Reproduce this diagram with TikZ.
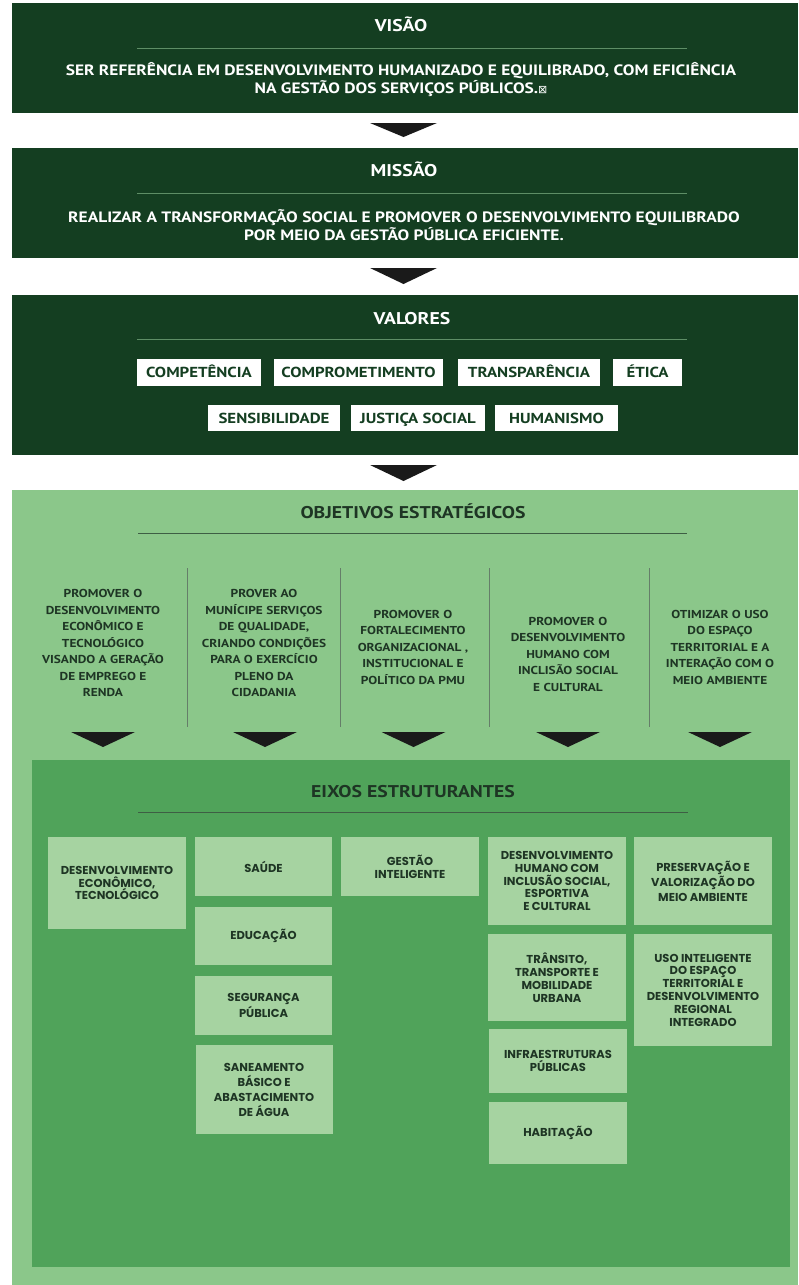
\documentclass[tikz,border=0pt]{standalone}
\usepackage{fontspec}
\setmainfont{PT Sans}[FakeStretch=1.16]
\newfontfamily\boxfont{Poppins}
\newfontfamily\symfont{DejaVu Sans}
\definecolor{darkg}{HTML}{143E21}
\definecolor{lightg}{HTML}{8BC78A}
\definecolor{midg}{HTML}{50A35A}
\definecolor{boxg}{HTML}{A6D3A1}
\definecolor{ruledark}{HTML}{5E8E66}
\definecolor{rulelight}{HTML}{3E5E44}
\definecolor{txtd}{HTML}{1E3524}
\definecolor{arrowc}{HTML}{1A1A1A}
\newcommand{\myfs}[2]{\fontsize{#1}{#2}\selectfont}
\newcommand{\downtri}[4]{\fill[arrowc] (#1-#4,#2) -- (#1+#4,#2) -- (#1,#3) -- cycle;}
\begin{document}
\begin{tikzpicture}[x=1pt,y=-1pt,
  panel/.style={draw=none, inner sep=0pt, outer sep=0pt, anchor=north west},
  darkpanel/.style={panel, fill=darkg},
  ttlw/.style={text=white, font=\bfseries\myfs{17}{20}, inner sep=0pt, text height=12pt, text depth=0pt},
  ttld/.style={text=txtd, font=\bfseries\myfs{17}{20}, inner sep=0pt, text height=12pt, text depth=0pt},
  bodyw/.style={text=white, font=\bfseries\myfs{15}{18}, align=center, inner sep=0pt},
  vbox/.style={fill=white, text=darkg, font=\bfseries\myfs{14.5}{17}, inner sep=0pt, outer sep=0pt, text height=10.5pt, text depth=0pt},
  objtxt/.style={text=txtd, font=\bfseries\myfs{11.5}{16.5}, align=center, inner sep=0pt},
  ebox/.style={fill=boxg, text=txtd, font=\boxfont\bfseries\myfs{11.5}{12.8}, align=center, inner sep=0pt, outer sep=0pt, minimum width=138pt},
  ruleD/.style={draw=ruledark, line width=1pt},
  ruleL/.style={draw=rulelight, line width=0.9pt},
  divider/.style={draw=rulelight!80, line width=0.9pt}
]
\useasboundingbox (0,0) rectangle (798,1285);
\fill[white] (0,0) rectangle (798,1285);

% ---------- VISAO ----------
\node[darkpanel, minimum width=786pt, minimum height=110pt] (visao) at (12,3) {};
\node[ttlw] (visaoT) at (401,25) {VISÃO};
\draw[ruleD] (137,48) -- (687,48);
\node[bodyw] (visaoB) at (401,80) {SER REFERÊNCIA EM DESENVOLVIMENTO HUMANIZADO E EQUILIBRADO, COM EFICIÊNCIA\\NA GESTÃO DOS SERVIÇOS PÚBLICOS.{\symfont\mdseries\myfs{11}{18}⊠}};
\downtri{403.5}{123}{137}{33.5}

% ---------- MISSAO ----------
\node[darkpanel, minimum width=786pt, minimum height=110pt] (missao) at (12,148) {};
\node[ttlw] (missaoT) at (404,170) {MISSÃO};
\draw[ruleD] (137,193) -- (687,193);
\node[bodyw] (missaoB) at (404,225) {REALIZAR A TRANSFORMAÇÃO SOCIAL E PROMOVER O DESENVOLVIMENTO EQUILIBRADO\\POR MEIO DA GESTÃO PÚBLICA EFICIENTE.};
\downtri{403.5}{268}{284}{33.5}

% ---------- VALORES ----------
\node[darkpanel, minimum width=786pt, minimum height=160pt] (valores) at (12,295) {};
\node[ttlw] (valoresT) at (412,318) {VALORES};
\draw[ruleD] (137,339) -- (687,339);
\node[vbox, minimum width=124pt, minimum height=27pt] (v1) at (199,372.5) {COMPETÊNCIA};
\node[vbox, minimum width=169pt, minimum height=27pt] (v2) at (358.5,372.5) {COMPROMETIMENTO};
\node[vbox, minimum width=142pt, minimum height=27pt] (v3) at (529,372.5) {TRANSPARÊNCIA};
\node[vbox, minimum width=69pt, minimum height=27pt] (v4) at (647.5,372.5) {ÉTICA};
\node[vbox, minimum width=132pt, minimum height=26pt] (v5) at (274,418) {SENSIBILIDADE};
\node[vbox, minimum width=134pt, minimum height=26pt] (v6) at (418,418) {JUSTIÇA SOCIAL};
\node[vbox, minimum width=123pt, minimum height=26pt] (v7) at (556.5,418) {HUMANISMO};
\downtri{403.5}{465}{481}{33.5}

% ---------- OBJETIVOS ----------
\node[panel, fill=lightg, minimum width=786pt, minimum height=795pt] (objetivos) at (12,490) {};
\node[ttld] (objT) at (413,512) {OBJETIVOS ESTRATÉGICOS};
\draw[ruleL] (138,533) -- (687,533);
\foreach \xx in {187,340,489,649} {\draw[divider] (\xx,568) -- (\xx,727);}
\node[objtxt] (o1) at (103,643) {PROMOVER O\\DESENVOLVIMENTO\\ECONÔMICO E\\TECNOLÓGICO\\VISANDO A GERAÇÃO\\DE EMPREGO E\\RENDA};
\node[objtxt] (o2) at (264,643) {PROVER AO\\MUNÍCIPE SERVIÇOS\\DE QUALIDADE,\\CRIANDO CONDIÇÕES\\PARA O EXERCÍCIO\\PLENO DA\\CIDADANIA};
\node[objtxt] (o3) at (413,647) {PROMOVER O\\FORTALECIMENTO\\ORGANIZACIONAL ,\\INSTITUCIONAL E\\POLÍTICO DA PMU};
\node[objtxt] (o4) at (568,654) {PROMOVER O\\DESENVOLVIMENTO\\HUMANO COM\\INCLISÃO SOCIAL\\E CULTURAL};
\node[objtxt] (o5) at (720,647) {OTIMIZAR O USO\\DO ESPAÇO\\TERRITORIAL E A\\INTERAÇÃO COM O\\MEIO AMBIENTE};
\downtri{103}{732}{747}{32}
\downtri{265}{732}{747}{32}
\downtri{413.5}{732}{747}{32}
\downtri{568}{732}{747}{32}
\downtri{720}{732}{747}{32}

% ---------- EIXOS ----------
\node[panel, fill=midg, minimum width=758pt, minimum height=507pt] (eixos) at (32,760) {};
\node[ttld] (eixT) at (413,791) {EIXOS ESTRUTURANTES};
\draw[ruleL] (138,812) -- (688,812);

\node[ebox, minimum height=92pt] (e1) at (117,883) {DESENVOLVIMENTO\\ECONÔMICO,\\TECNOLÓGICO};

\node[ebox, minimum width=137pt, minimum height=59pt] (e2a) at (263.5,866.5) {SAÚDE};
\node[ebox, minimum width=137pt, minimum height=58pt] (e2b) at (263.5,936) {EDUCAÇÃO};
\node[ebox, minimum width=137pt, minimum height=59pt] (e2c) at (263.5,1005.5) {SEGURANÇA\\PÚBLICA};
\node[ebox, minimum width=137pt, minimum height=89pt, font=\boxfont\bfseries\myfs{11.5}{15}] (e2d) at (264,1089.5) {SANEAMENTO\\BÁSICO E\\ABASTACIMENTO\\DE ÁGUA};

\node[ebox, minimum height=59pt] (e3) at (410,866.5) {GESTÃO\\INTELIGENTE};

\node[ebox, minimum height=88pt] (e4a) at (557,881) {DESENVOLVIMENTO\\HUMANO COM\\INCLUSÃO SOCIAL,\\ESPORTIVA\\E CULTURAL};
\node[ebox, minimum height=87pt] (e4b) at (557,977.5) {TRÂNSITO,\\TRANSPORTE E\\MOBILIDADE\\URBANA};
\node[ebox, minimum height=64pt] (e4c) at (558,1061) {INFRAESTRUTURAS\\PÚBLICAS};
\node[ebox, minimum height=62pt] (e4d) at (558,1133) {HABITAÇÃO};

\node[ebox, minimum height=88pt, font=\boxfont\bfseries\myfs{11.5}{15}] (e5a) at (703,881) {PRESERVAÇÃO E\\VALORIZAÇÃO DO\\MEIO AMBIENTE};
\node[ebox, minimum height=112pt] (e5b) at (703,990) {USO INTELIGENTE\\DO ESPAÇO\\TERRITORIAL E\\DESENVOLVIMENTO\\REGIONAL\\INTEGRADO};
\end{tikzpicture}
\end{document}
